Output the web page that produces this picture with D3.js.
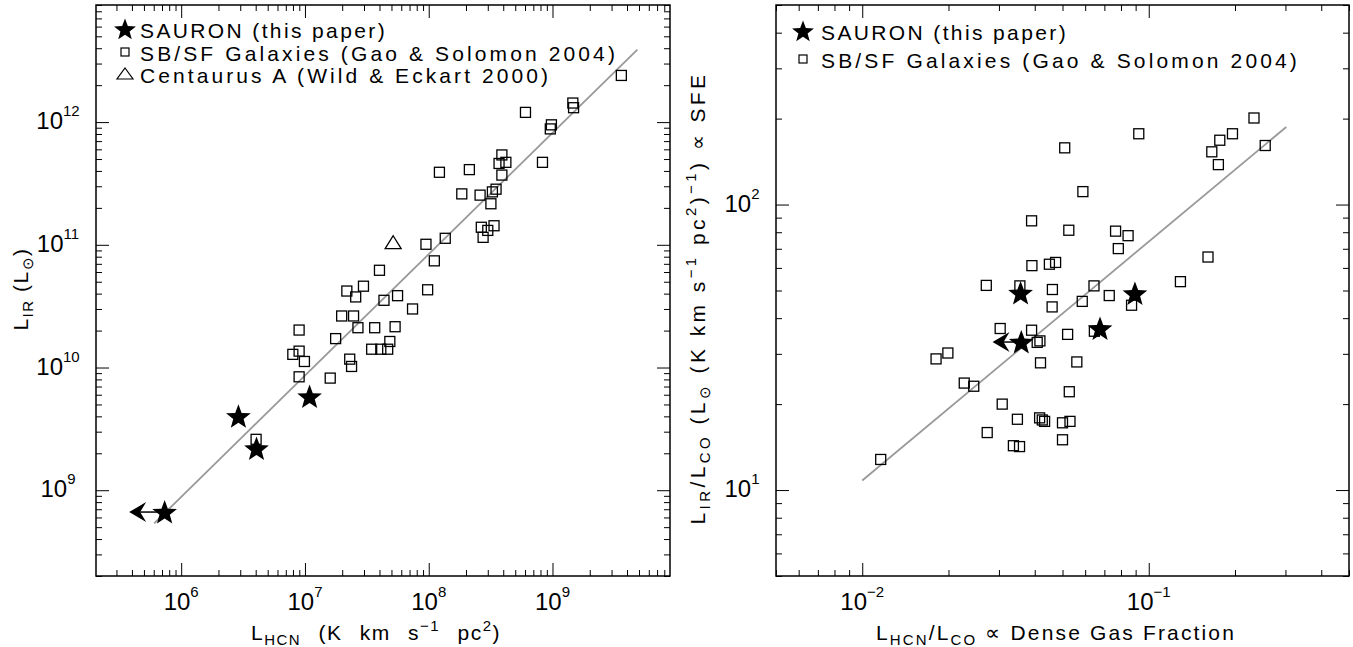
<!DOCTYPE html>
<html>
<head>
<meta charset="utf-8">
<script src="https://cdn.jsdelivr.net/npm/d3@7"></script>
<style>
  body { margin: 0; background: #fff; }
  text { font-family: "Liberation Sans", Arial, sans-serif; fill: #000; }
</style>
</head>
<body>
<svg id="chart" width="1353" height="647"></svg>
<script>
// ---- data: left panel, L_HCN vs L_IR ----
var sbLeft = [
  [3.6e9, 2.4e12], [1.46e9, 1.43e12], [1.48e9, 1.31e12], [6.05e8, 1.2e12],
  [9.8e8, 9.5e11], [9.6e8, 8.8e11], [3.9e8, 5.4e11], [3.7e8, 4.6e11],
  [4.2e8, 4.7e11], [8.3e8, 4.7e11], [3.9e8, 3.7e11], [1.22e8, 3.9e11],
  [2.13e8, 4.1e11], [1.85e8, 2.6e11], [2.6e8, 2.54e11], [3.27e8, 2.7e11],
  [3.5e8, 2.84e11], [3.18e8, 2.16e11], [2.66e8, 1.39e11], [3.37e8, 1.43e11],
  [3.0e8, 1.31e11], [2.75e8, 1.15e11], [1.36e8, 1.13e11], [9.5e7, 1.01e11],
  [1.11e8, 7.4e10], [4.0e7, 6.2e10], [2.97e7, 4.6e10], [2.18e7, 4.2e10],
  [2.57e7, 3.76e10], [5.6e7, 3.85e10], [4.35e7, 3.53e10], [9.8e7, 4.3e10],
  [7.4e7, 3.0e10], [1.98e7, 2.63e10], [2.47e7, 2.63e10], [2.68e7, 2.11e10],
  [3.66e7, 2.11e10], [5.35e7, 2.15e10], [8.97e6, 2.02e10], [1.77e7, 1.72e10],
  [7.98e6, 1.28e10], [8.97e6, 1.36e10], [9.9e6, 1.12e10], [3.46e7, 1.41e10],
  [4.1e7, 1.41e10], [4.66e7, 1.41e10], [4.85e7, 1.63e10], [2.3e7, 1.17e10],
  [2.38e7, 1.02e10], [8.97e6, 8.4e9], [1.6e7, 8.2e9], [4.03e6, 2.6e9]
];
var sauronLeft = [[2.9e6, 4.0e9], [1.09e7, 5.8e9], [4.06e6, 2.19e9], [7.35e5, 6.64e8]];
var limitLeft = [[7.35e5, 6.64e8, 3.8e5]];   // x, y, arrow tip x
var cenA = [[5.16e7, 1.04e11]];
var fitLeftX = [6.05e5, 4.85e9];
var fitLeftY = [5.36e8, 3.9e12];

// ---- data: right panel, L_HCN/L_CO vs L_IR/L_CO ----
var sbRight = [
  [0.233, 201], [0.255, 161], [0.196, 177], [0.177, 168], [0.166, 153],
  [0.175, 138], [0.0923, 177], [0.0509, 158], [0.0589, 111], [0.039, 87.7],
  [0.0526, 81.3], [0.0766, 80.7], [0.0847, 77.8], [0.0783, 70.1], [0.161, 65.5],
  [0.0391, 61.1], [0.045, 61.8], [0.0473, 62.7], [0.0271, 52.1], [0.0461, 50.4],
  [0.0644, 51.9], [0.129, 53.7], [0.0728, 48.0], [0.0586, 45.8], [0.046, 43.8],
  [0.0871, 44.4], [0.0355, 51.9], [0.0303, 36.8], [0.039, 36.3], [0.0521, 35.1],
  [0.0646, 36.0], [0.0408, 32.9], [0.0417, 33.3], [0.0181, 28.8], [0.0199, 30.2],
  [0.0419, 27.9], [0.0561, 28.1], [0.0227, 23.7], [0.0245, 23.1], [0.0528, 22.1],
  [0.0308, 20.0], [0.0348, 17.7], [0.0416, 17.9], [0.0433, 17.4], [0.0425, 17.6],
  [0.05, 17.2], [0.0531, 17.4], [0.0273, 15.9], [0.0337, 14.3], [0.0354, 14.2],
  [0.05, 15.0], [0.0116, 12.8]
];
var sauronRight = [[0.0357, 49.0], [0.0895, 48.8], [0.0676, 36.8], [0.0359, 33.0]];
var limitRight = [[0.0359, 33.0, 0.0285]];
var fitRightX = [0.01, 0.302];
var fitRightY = [10.8, 187];

var legendLeft = ["SAURON (this paper)", "SB/SF Galaxies (Gao & Solomon 2004)", "Centaurus A (Wild & Eckart 2000)"];
var legendRight = ["SAURON (this paper)", "SB/SF Galaxies (Gao & Solomon 2004)"];

var svg = d3.select("#chart");

// spread the letters of a text so that it takes a given width (the plot font is wide)
function fitWidth(t, w) {
  var n = t.text().length;
  var natural = t.node().getComputedTextLength();
  t.style("letter-spacing", ((w - natural) / n) + "px");
}

// short titles: a little letter spacing, the rest of the width goes into the blanks
function fitWords(t, w) {
  t.style("letter-spacing", "1.5px");
  var natural = t.node().getComputedTextLength();
  var blanks = (t.text().match(/ /g) || []).length;
  if (blanks) t.style("word-spacing", Math.max(0, (w - natural) / blanks) + "px");
}

function logTicks(domain) {
  var major = [], minor = [];
  var lo = Math.floor(Math.log10(domain[0])), hi = Math.ceil(Math.log10(domain[1]));
  for (var e = lo; e <= hi; e++) {
    for (var k = 1; k <= 9; k++) {
      var v = k * Math.pow(10, e);
      if (v < domain[0] * 0.999 || v > domain[1] * 1.001) continue;
      (k === 1 ? major : minor).push(v);
    }
  }
  return { major: major, minor: minor };
}

function starPath(R) {
  var pts = [];
  for (var i = 0; i < 10; i++) {
    var r = i % 2 ? R * 0.42 : R;
    var a = -Math.PI / 2 + i * Math.PI / 5;
    pts.push([r * Math.cos(a), r * Math.sin(a)]);
  }
  return "M" + pts.join("L") + "Z";
}

function powLabel(sel, v) {
  var e = Math.round(Math.log10(v));
  sel.text("10");
  sel.append("tspan").attr("dy", -13).style("font-size", "15px")
    .text(e < 0 ? "\u2212" + (-e) : e);
}

function drawPanel(p) {
  var g = svg.append("g");
  var x = d3.scaleLog().domain(p.xDomain).range([p.x0, p.x1]);
  var y = d3.scaleLog().domain(p.yDomain).range([p.y1, p.y0]);
  var xt = logTicks(p.xDomain), yt = logTicks(p.yDomain);

  // inward ticks on all four sides
  function ticks(axis, vals, size, tr) {
    var a = g.append("g").attr("transform", tr)
      .call(axis.tickValues(vals).tickSize(size).tickFormat(""));
    a.select(".domain").remove();
    a.selectAll("line").attr("stroke", "#000").attr("stroke-width", 1);
  }
  [[xt.major, 13], [xt.minor, 6]].forEach(function (t) {
    ticks(d3.axisBottom(x), t[0], -t[1], "translate(0," + p.y1 + ")");
    ticks(d3.axisTop(x), t[0], -t[1], "translate(0," + p.y0 + ")");
  });
  [[yt.major, 13], [yt.minor, 6]].forEach(function (t) {
    ticks(d3.axisLeft(y), t[0], -t[1], "translate(" + p.x0 + ",0)");
    ticks(d3.axisRight(y), t[0], -t[1], "translate(" + p.x1 + ",0)");
  });

  g.append("rect").attr("x", p.x0).attr("y", p.y0)
    .attr("width", p.x1 - p.x0).attr("height", p.y1 - p.y0)
    .attr("fill", "none").attr("stroke", "#000").attr("stroke-width", 1.5);

  // tick labels
  xt.major.forEach(function (v) {
    g.append("text").attr("x", x(v)).attr("y", 610)
      .attr("text-anchor", "middle").style("font-size", "24px").call(powLabel, v);
  });
  yt.major.forEach(function (v) {
    g.append("text").attr("x", p.yLabelX).attr("y", y(v) + 7)
      .attr("text-anchor", "middle").style("font-size", "24px").call(powLabel, v);
  });

  // fit line
  var line = d3.line().x(function (d) { return x(d[0]); }).y(function (d) { return y(d[1]); });
  g.append("path").datum(d3.zip(p.fitX, p.fitY)).attr("d", line)
    .attr("fill", "none").attr("stroke", "#999").attr("stroke-width", 1.8);

  g.selectAll(".sq").data(p.squares).enter().append("rect")
    .attr("x", function (d) { return x(d[0]) - 5; })
    .attr("y", function (d) { return y(d[1]) - 5; })
    .attr("width", 10).attr("height", 10)
    .attr("fill", "none").attr("stroke", "#000").attr("stroke-width", 1.3);

  if (p.triangles) {
    g.selectAll(".tri").data(p.triangles).enter().append("path")
      .attr("transform", function (d) { return "translate(" + x(d[0]) + "," + y(d[1]) + ")"; })
      .attr("d", "M0,-7L8,6L-8,6Z")
      .attr("fill", "none").attr("stroke", "#000").attr("stroke-width", 1.3);
  }

  g.selectAll(".lim").data(p.limits).enter().append("g").each(function (d) {
    var s = d3.select(this), yy = y(d[1]), tip = x(d[2]);
    s.append("line").attr("x1", x(d[0])).attr("x2", tip + 4).attr("y1", yy).attr("y2", yy)
      .attr("stroke", "#000").attr("stroke-width", 1.5);
    s.append("path")
      .attr("d", "M" + tip + "," + yy + "L" + (tip + 17) + "," + (yy - 10) +
        "L" + (tip + 11) + "," + yy + "L" + (tip + 17) + "," + (yy + 10) + "Z")
      .attr("fill", "#000");
  });

  g.selectAll(".star").data(p.stars).enter().append("path")
    .attr("transform", function (d) { return "translate(" + x(d[0]) + "," + (y(d[1]) + 1) + ")"; })
    .attr("d", starPath(13)).attr("fill", "#000");

  // legend
  p.legend.forEach(function (txt, i) {
    var by = p.legY[i];
    g.append("text").attr("x", p.legTextX).attr("y", by)
      .style("font-size", "21px").text(txt).call(fitWidth, p.legW[i]);
    var cx = p.legSymX, cy = by - 9;
    if (i === 0) {
      g.append("path").attr("transform", "translate(" + cx + "," + (cy + 1) + ")")
        .attr("d", starPath(11.5)).attr("fill", "#000");
    } else if (i === 1) {
      g.append("rect").attr("x", cx - 4).attr("y", cy - 4).attr("width", 8).attr("height", 8)
        .attr("fill", "none").attr("stroke", "#000").attr("stroke-width", 1.2);
    } else {
      g.append("path").attr("transform", "translate(" + cx + "," + cy + ")")
        .attr("d", "M0,-6L8,5L-8,5Z")
        .attr("fill", "none").attr("stroke", "#000").attr("stroke-width", 1.2);
    }
  });
  return g;
}

drawPanel({
  x0: 96, x1: 670, y0: 5, y1: 576,
  xDomain: [2.05e5, 8.9e9], yDomain: [2e8, 9e12],
  yLabelX: 58,
  squares: sbLeft, stars: sauronLeft, limits: limitLeft, triangles: cenA,
  fitX: fitLeftX, fitY: fitLeftY,
  legend: legendLeft, legY: [38, 61, 83], legW: [247, 478, 411], legSymX: 125, legTextX: 140
});

drawPanel({
  x0: 776, x1: 1349, y0: 5, y1: 576,
  xDomain: [0.005, 0.5], yDomain: [5, 500],
  yLabelX: 742,
  squares: sbRight, stars: sauronRight, limits: limitRight,
  fitX: fitRightX, fitY: fitRightY,
  legend: legendRight, legY: [40, 68], legW: [247, 479], legSymX: 803, legTextX: 821
});

// axis titles
function title(x, y, rot, w, spread, parts) {
  var t = svg.append("text").attr("text-anchor", "middle").style("font-size", "21px")
    .attr("transform", "translate(" + x + "," + y + ")" + (rot ? " rotate(-90)" : ""));
  var shift = 0;
  parts.forEach(function (p) {
    var target = p[1] === "sub" ? 5 : p[1] === "sup" ? -9 : 0;
    var ts = t.append("tspan").attr("dy", target - shift).text(p[0]);
    if (p[1]) ts.style("font-size", "15px");
    shift = target;
  });
  spread(t, w);
}

title(376, 640, false, 250, fitWords, [["L"], ["HCN", "sub"], [" (K km s"], ["\u22121", "sup"], [" pc"], ["2", "sup"], [")"]]);
title(1056, 640, false, 360, fitWidth, [["L"], ["HCN", "sub"], ["/L"], ["CO", "sub"], [" \u221D Dense Gas Fraction"]]);
title(28, 289, true, 82, fitWords, [["L"], ["IR", "sub"], [" (L"], ["\u2299", "sub"], [")"]]);
title(705, 298, true, 453, fitWidth, [["L"], ["IR", "sub"], ["/L"], ["CO", "sub"], [" (L"], ["\u2299", "sub"],
  [" (K km s"], ["\u22121", "sup"], [" pc"], ["2", "sup"], [")"], ["\u22121", "sup"], [") \u221D SFE"]]);
</script>
</body>
</html>
